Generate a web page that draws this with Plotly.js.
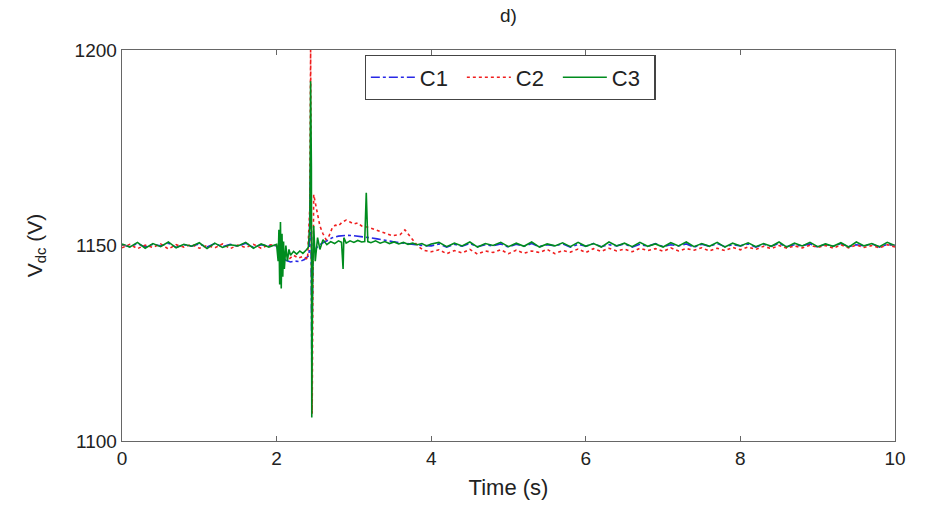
<!DOCTYPE html>
<html>
<head>
<meta charset="utf-8">
<script src="https://cdn.plot.ly/plotly-3.0.1.min.js"></script>
<style>html,body{margin:0;padding:0;background:#fff;}#chart{width:930px;height:506px;}</style>
</head>
<body>
<div id="chart"></div>
<script>
// ---- Data (time in s, Vdc in V) ----
const t1 = [0,0.1,0.2,0.3,0.4,0.5,0.6,0.7,0.8,0.9,1.0,1.1,1.2,1.3,1.4,1.5,1.6,1.7,1.8,1.9,
  2.0,2.04,2.08,2.12,2.18,2.24,2.30,2.36,2.42,2.44,2.455,2.47,2.52,2.58,2.65,2.72,2.80,2.90,3.0,3.1,3.2,3.3,3.4,3.5,3.6,3.7,3.8,3.9,4.0,
  4.1,4.2,4.3,4.4,4.5,4.6,4.7,4.8,4.9,5.0,5.1,5.2,5.3,5.4,5.5,5.6,5.7,5.8,5.9,6.0,6.1,6.2,6.3,6.4,6.5,6.6,6.7,6.8,6.9,7.0,
  7.1,7.2,7.3,7.4,7.5,7.6,7.7,7.8,7.9,8.0,8.1,8.2,8.3,8.4,8.5,8.6,8.7,8.8,8.9,9.0,9.1,9.2,9.3,9.4,9.5,9.6,9.7,9.8,9.9,10.0];
const v1 = [1150.2,1149.7,1150.5,1149.6,1150.3,1149.9,1150.6,1149.5,1150.2,1149.8,1150.4,1149.6,1150.5,1149.7,1150.3,1149.8,1150.6,1149.5,1150.2,1149.9,
  1150.0,1148.0,1147.0,1146.2,1145.8,1146.0,1145.9,1146.4,1147.5,1170.0,1120.0,1148.0,1149.5,1150.5,1151.2,1152.0,1152.4,1152.6,1152.5,1152.3,1152.0,1151.7,1151.3,1151.0,1150.7,1150.4,1150.2,1150.0,1149.9,
  1150.4,1149.6,1150.3,1149.8,1150.5,1149.7,1150.2,1149.9,1150.4,1149.6,1150.3,1149.8,1150.5,1149.7,1150.2,1149.9,1150.4,1149.6,1150.3,1149.8,1150.5,1149.7,1150.2,1149.9,1150.4,1149.6,1150.3,1149.8,1150.5,1149.7,
  1150.2,1149.9,1150.4,1149.6,1150.3,1149.8,1150.5,1149.7,1150.2,1149.9,1150.4,1149.6,1150.3,1149.8,1150.5,1149.7,1150.2,1149.9,1150.4,1149.6,1150.3,1149.8,1150.5,1149.7,1150.2,1149.9,1150.4,1149.6,1150.3,1150.0];

const t2 = [0,0.1,0.2,0.3,0.4,0.5,0.6,0.7,0.8,0.9,1.0,1.1,1.2,1.3,1.4,1.5,1.6,1.7,1.8,1.9,
  2.0,2.04,2.06,2.08,2.12,2.16,2.22,2.28,2.34,2.40,2.43,2.44,2.45,2.46,2.47,2.48,2.50,2.53,2.56,2.60,2.64,2.68,2.72,2.76,2.80,2.85,2.90,2.95,3.0,3.05,3.1,3.2,3.3,3.4,3.5,3.6,3.66,3.70,3.75,3.80,3.85,3.9,3.95,4.0,
  4.1,4.2,4.3,4.4,4.5,4.6,4.7,4.8,4.9,5.0,5.1,5.2,5.3,5.4,5.5,5.6,5.7,5.8,5.9,6.0,6.1,6.2,6.3,6.4,6.5,6.6,6.7,6.8,6.9,7.0,
  7.1,7.2,7.3,7.4,7.5,7.6,7.7,7.8,7.9,8.0,8.1,8.2,8.3,8.4,8.5,8.6,8.7,8.8,8.9,9.0,9.1,9.2,9.3,9.4,9.5,9.6,9.7,9.8,9.9,10.0];
const v2 = [1149.4,1150.3,1149.2,1150.1,1149.5,1150.4,1149.1,1150.2,1149.6,1150.3,1149.3,1150.0,1149.4,1150.4,1149.2,1150.1,1149.5,1150.3,1149.3,1150.2,
  1150.0,1147.0,1152.0,1146.0,1148.0,1146.5,1147.5,1146.8,1147.2,1146.5,1160.0,1200.0,1150.0,1107.0,1140.0,1163.0,1161.0,1158.0,1155.0,1153.0,1151.5,1152.5,1154.5,1155.2,1155.0,1156.0,1156.5,1156.0,1155.5,1155.8,1155.0,1154.6,1154.0,1153.2,1152.5,1152.8,1154.0,1153.0,1151.5,1150.5,1149.5,1148.8,1148.6,1148.4,
  1148.9,1147.9,1148.7,1148.1,1149.0,1147.8,1148.6,1148.2,1148.9,1147.9,1148.8,1148.0,1148.6,1148.2,1149.0,1147.9,1148.7,1148.3,1149.1,1148.2,1149.2,1148.5,1149.3,1148.6,1149.1,1148.4,1149.3,1148.7,1149.2,1148.5,
  1149.4,1148.6,1149.2,1148.8,1149.4,1148.6,1149.3,1148.7,1149.5,1148.9,1149.6,1149.0,1149.8,1149.2,1150.0,1149.3,1149.9,1149.4,1150.1,1149.5,1150.0,1149.3,1150.2,1149.4,1150.1,1149.5,1150.0,1149.4,1150.2,1149.6];

const t3 = [0,0.1,0.2,0.3,0.4,0.5,0.6,0.7,0.8,0.9,1.0,1.1,1.2,1.3,1.4,1.5,1.6,1.7,1.8,1.9,
  2.0,2.02,2.03,2.04,2.05,2.06,2.07,2.08,2.09,2.10,2.12,2.14,2.16,2.18,2.22,2.26,2.30,2.34,2.38,2.41,2.43,2.44,2.45,2.455,2.465,2.48,2.50,2.53,2.56,2.60,2.65,2.70,2.75,2.80,2.84,2.86,2.87,2.90,2.95,3.0,3.05,3.10,3.14,3.16,3.18,3.22,3.28,3.34,3.40,3.46,3.52,3.58,3.64,3.70,3.76,3.82,3.88,3.94,4.0,
  4.1,4.2,4.3,4.4,4.5,4.6,4.7,4.8,4.9,5.0,5.1,5.2,5.3,5.4,5.5,5.6,5.7,5.8,5.9,6.0,6.1,6.2,6.3,6.4,6.5,6.6,6.7,6.8,6.9,7.0,
  7.1,7.2,7.3,7.4,7.5,7.6,7.7,7.8,7.9,8.0,8.1,8.2,8.3,8.4,8.5,8.6,8.7,8.8,8.9,9.0,9.1,9.2,9.3,9.4,9.5,9.6,9.7,9.8,9.9,10.0];
const v3 = [1150.4,1149.6,1150.8,1149.3,1150.5,1149.7,1150.9,1149.4,1150.3,1149.8,1150.7,1149.2,1150.6,1149.5,1150.2,1149.9,1150.8,1149.3,1150.4,1149.6,
  1150.3,1146.0,1154.0,1140.0,1156.0,1139.0,1153.0,1142.0,1151.0,1144.0,1150.0,1146.0,1149.0,1147.5,1148.5,1147.8,1148.6,1148.0,1148.8,1149.5,1155.0,1192.0,1170.0,1106.0,1140.0,1155.0,1146.0,1152.0,1149.0,1151.5,1150.2,1151.0,1150.5,1151.2,1150.8,1144.0,1152.0,1150.6,1151.2,1150.8,1151.3,1150.9,1151.0,1163.5,1151.0,1150.7,1151.2,1150.6,1151.0,1150.5,1150.9,1150.4,1150.8,1150.3,1150.6,1150.2,1150.5,1149.9,1150.4,
  1150.8,1149.7,1150.6,1149.9,1150.9,1149.6,1150.5,1150.0,1150.8,1149.7,1150.6,1149.8,1150.9,1149.6,1150.4,1149.9,1150.7,1149.7,1150.8,1149.8,1150.5,1149.6,1150.9,1149.9,1150.6,1149.7,1150.8,1149.8,1150.4,1149.6,
  1150.7,1149.9,1150.9,1149.7,1150.5,1149.8,1150.8,1149.6,1150.6,1149.9,1150.7,1149.7,1150.5,1149.8,1150.9,1149.6,1150.6,1149.9,1150.8,1149.7,1150.4,1149.8,1150.7,1149.6,1150.9,1149.9,1150.5,1149.7,1150.8,1150.0];

const xTicks = [0,2,4,6,8,10];
const yTicks = [1100,1150,1200];

const traces = [
  {x: t1, y: v1, name: 'C1', type: 'scatter', mode: 'lines', line: {color: 'rgb(40,40,230)', width: 1.6, dash: 'dashdot'}},
  {x: t2, y: v2, name: 'C2', type: 'scatter', mode: 'lines', line: {color: 'rgb(240,30,30)', width: 1.6, dash: 'dot'}},
  {x: t3, y: v3, name: 'C3', type: 'scatter', mode: 'lines', line: {color: 'rgb(0,140,30)', width: 1.6}}
];

const fnt = 'Liberation Sans, Arial, sans-serif';
const layout = {
  width: 930, height: 506,
  margin: {l: 122, r: 35, t: 50, b: 65},
  paper_bgcolor: '#fff', plot_bgcolor: '#fff',
  font: {family: fnt, size: 19, color: '#222'},
  title: {text: 'd)', font: {family: fnt, size: 19, color: '#222'}, xref: 'paper', x: 0.5, xanchor: 'center', y: 0.97, yanchor: 'middle'},
  showlegend: true,
  legend: {orientation: 'h', x: 0.502, xanchor: 'center', y: 0.987, yanchor: 'top',
    bordercolor: '#444', borderwidth: 1.3, bgcolor: '#fff',
    itemwidth: 44, entrywidth: 37, entrywidthmode: 'pixels',
    font: {family: fnt, size: 22, color: '#222'}},
  xaxis: {range: [0, 10], tickvals: xTicks, ticktext: xTicks.map(String),
    showline: true, mirror: 'ticks', linecolor: '#666', linewidth: 1.3,
    ticks: 'inside', ticklen: 5, tickcolor: '#666', showgrid: false, zeroline: false,
    tickfont: {family: fnt, size: 19, color: '#222'},
    title: {text: 'Time (s)', font: {family: fnt, size: 22, color: '#222'}, standoff: 11}},
  yaxis: {range: [1100, 1200], tickvals: yTicks, ticktext: yTicks.map(String),
    showline: true, mirror: 'ticks', linecolor: '#666', linewidth: 1.3,
    ticks: 'inside', ticklen: 5, tickcolor: '#666', showgrid: false, zeroline: false,
    tickfont: {family: fnt, size: 19, color: '#222'},
    title: {text: 'V<sub>dc</sub> (V)', font: {family: fnt, size: 21, color: '#222'}, standoff: 26}}
};

Plotly.newPlot('chart', traces, layout, {displayModeBar: false, staticPlot: true});
</script>
</body>
</html>
